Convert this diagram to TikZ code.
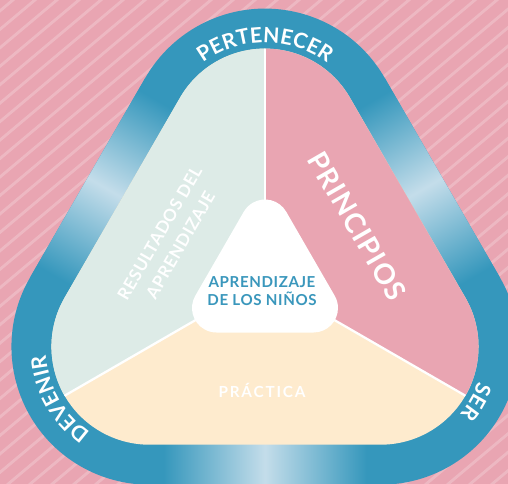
\documentclass[tikz,border=0pt]{standalone}
\usepackage{fontspec}
\setmainfont{Lato}
\newfontfamily\widefont{Lato}[LetterSpace=12]
\newfontfamily\labelfont{Lato}[LetterSpace=4]
\usetikzlibrary{decorations.text}

\definecolor{bgpink}{HTML}{E9A5B2}
\definecolor{banddark}{HTML}{3597BC}
\definecolor{bandlight}{HTML}{C4DDEA}
\definecolor{sage}{HTML}{DDEBE7}
\definecolor{cream}{HTML}{FEEBCE}
\definecolor{tealtext}{HTML}{3A97BC}

\pgfdeclarehorizontalshading{bandfade}{100bp}{color(0bp)=(banddark); color(28bp)=(banddark); color(50bp)=(bandlight); color(72bp)=(banddark); color(100bp)=(banddark)}

% rounded triangle: offset, top, left and right corner
\newcommand\roundtri[4]{([shift={(30:#1)}]#2) arc[start angle=30, end angle=150, radius=#1] -- ([shift={(150:#1)}]#3) arc[start angle=150, end angle=270, radius=#1] -- ([shift={(270:#1)}]#4) arc[start angle=270, end angle=390, radius=#1] -- cycle}

\begin{document}
\begin{tikzpicture}[
    x=0.02cm, y=0.02cm,
    stripe/.style={white, opacity=0.22, line width=1.6pt},
    divider/.style={white, line width=1.3pt},
    bandlabel/.style={decorate, decoration={text along path, text align=center, text color=white, text={|\fontsize{12}{14}\selectfont\bfseries\kern0.1pt|#1}}},
    sectorlabel/.style={text=white, align=center, inner sep=0pt},
    hublabel/.style={text=tealtext, align=center, inner sep=0pt, font=\labelfont\bfseries\fontsize{8.6}{10.2}\selectfont}
]
\useasboundingbox (-265,-204) rectangle (243,280);

% Corners of the big triangle
\coordinate (tv) at (90:133.4);
\coordinate (lv) at (210:133.4);
\coordinate (rv) at (330:133.4);
% Corners of the hub
\coordinate (htv) at (90:56);
\coordinate (hlv) at (210:56);
\coordinate (hrv) at (330:56);

% Background
\fill[bgpink] (-265,-204) rectangle (243,280);
\begin{scope}
  \clip (-265,-204) rectangle (243,280);
  \foreach \k in {-45,...,12}
    \draw[stripe] (\k*22,-210) -- ++(40:800);
\end{scope}

% Outer band
\fill[banddark] \roundtri{138}{tv}{lv}{rv};
\foreach \a in {0,120,240}
  \shade[shading=bandfade, transform canvas={rotate=\a}] (-115.5,-204.7) rectangle (115.5,-164.7);

% Sectors
\begin{scope}
  \clip \roundtri{98}{tv}{lv}{rv};
  \fill[cream] (-300,-300) rectangle (300,300);
  \fill[sage] (0,0) -- (0,300) -- (-300,300) -- (210:400) -- cycle;
  \fill[bgpink] (0,0) -- (0,300) -- (300,300) -- (330:400) -- cycle;
  \foreach \a in {90,210,330}
    \draw[divider] (0,0) -- (\a:300);
\end{scope}

% Hub
\fill[white] \roundtri{24.5}{htv}{hlv}{hrv};

% Band labels
\path[bandlabel=PERTENECER] ([shift={(165:104)}]tv) arc[start angle=165, end angle=15, radius=104];
\path[bandlabel=DEVENIR] ([shift={(285:104)}]lv) arc[start angle=285, end angle=135, radius=104];
\path[bandlabel=SER] ([shift={(45:104)}]rv) arc[start angle=45, end angle=-105, radius=104];

% Sector labels
\node[sectorlabel, rotate=-60, font=\labelfont\bfseries\fontsize{16}{18}\selectfont] (principios) at (92,54) {PRINCIPIOS};
\node[sectorlabel, rotate=60, font=\labelfont\bfseries\fontsize{9.7}{13.6}\selectfont] (resultados) at (-95,41) {RESULTADOS DEL\\APRENDIZAJE};
\node[sectorlabel, anchor=base, font=\widefont\bfseries\fontsize{8.7}{10}\selectfont] (practica) at (-3,-117) {PRÁCTICA};
\node[hublabel] (aprendizaje) at (-3,-11) {APRENDIZAJE\\DE LOS NIÑOS};

\end{tikzpicture}
\end{document}
